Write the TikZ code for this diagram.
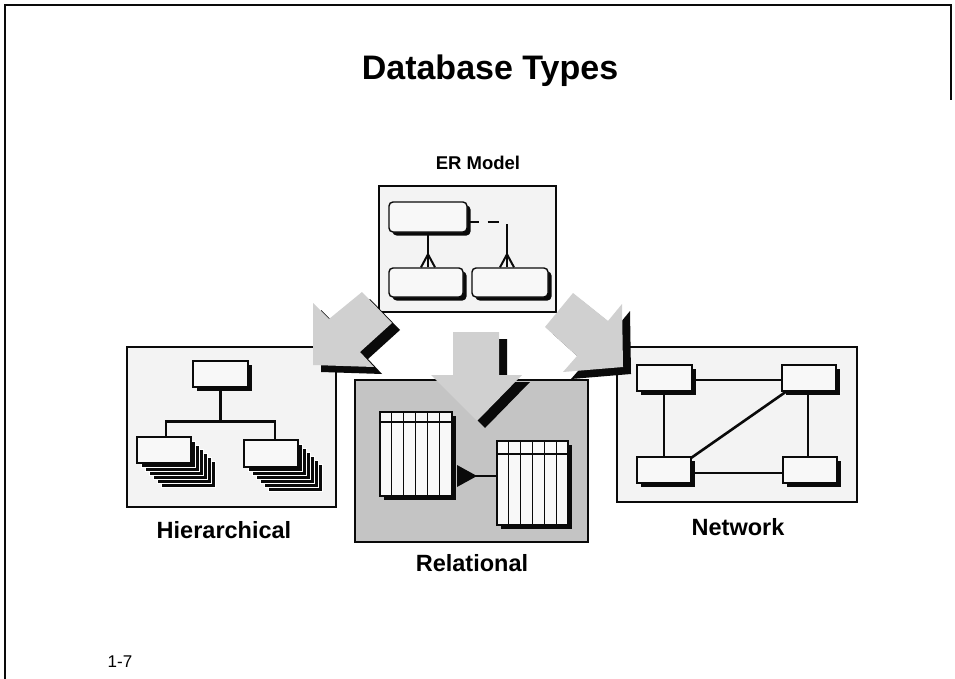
\documentclass[tikz,border=0pt]{standalone}
\usepackage{fontspec}
\setmainfont{Liberation Sans}
\usetikzlibrary{shadows,calc}
\definecolor{panelgray}{HTML}{F3F3F3}
\definecolor{relgray}{HTML}{C4C4C4}
\definecolor{cardwhite}{HTML}{F8F8F8}
\definecolor{arrowgray}{HTML}{D0D0D0}
\definecolor{inkblack}{HTML}{0A0A0A}
\begin{document}
\begin{tikzpicture}[x=1pt,y=-1pt,
  panel/.style={draw=inkblack,line width=2.5pt,fill=panelgray},
  card/.style={draw=inkblack,line width=1.4pt,fill=cardwhite,inner sep=0pt,
    drop shadow={shadow xshift=3.5pt,shadow yshift=-3.5pt,fill=inkblack,opacity=1}},
  flatcard/.style={draw=inkblack,line width=1.4pt,fill=cardwhite,inner sep=0pt},
  entity/.style={card,rounded corners=4pt},
  conn/.style={draw=inkblack,line width=2.6pt},
  stackcard/.style={fill=inkblack,draw=white,line width=0.7pt},
  bigarrow/.style={fill=arrowgray,
    drop shadow={shadow xshift=8pt,shadow yshift=-7pt,fill=inkblack,opacity=1}},
  label/.style={font=\bfseries\fontsize{23.5}{27}\selectfont,inner sep=0pt,anchor=base},
  title/.style={font=\bfseries\fontsize{34}{40}\selectfont,inner sep=0pt,anchor=base},
  pageno/.style={font=\fontsize{17}{20}\selectfont,inner sep=0pt,anchor=base}]

\useasboundingbox (0,0) rectangle (955,679);
\fill[white] (0,0) rectangle (955,679);

% page frame
\draw[inkblack,line width=2.5pt] (951,100) -- (951,5) -- (5,5) -- (5,679);

% titles and captions
\node[title] (ttl) at (490,80) {Database Types};
\node[label,font=\bfseries\fontsize{18.5}{22}\selectfont] (ler) at (478,170) {ER Model};
\node[label] (lhi) at (224,538) {Hierarchical};
\node[label] (lre) at (472,571) {Relational};
\node[label] (lne) at (738,535) {Network};
\node[pageno] (pg) at (120,667) {1-7};

% ---------------- ER model ----------------
\draw[panel] (379,186) rectangle (556,312);
\node[entity,minimum width=78pt,minimum height=30pt] (e1) at (428,217) {};
\node[entity,minimum width=74pt,minimum height=29pt] (e2) at (426,282.5) {};
\node[entity,minimum width=76pt,minimum height=29pt] (e3) at (510,282.5) {};
\path (e1.south |- e2.north) coordinate (fa);
\path ([xshift=-3pt]e3.north) coordinate (fb);
\path ([yshift=-5pt]e1.east) coordinate (da);
\draw[conn] (e1.south) -- (fa);
\draw[conn,line width=2pt] (fa) ++(-7,0) -- ++(7,-13) -- ++(7,13);
\draw[conn,dash pattern=on 11pt off 9pt] (da) -- (da -| fb);
\draw[conn] ([yshift=-2pt]da -| fb) -- (fb);
\draw[conn,line width=2pt] (fb) ++(-7,0) -- ++(7,-13) -- ++(7,13);

% ---------------- Hierarchical ----------------
\draw[panel] (127,347) rectangle (336,507);
\foreach \i in {6,...,1} {
  \filldraw[stackcard] (137+4*\i,437+4*\i) rectangle (191+4*\i,463+4*\i);
  \filldraw[stackcard] (244+4*\i,440+4*\i) rectangle (298+4*\i,467+4*\i);
}
\node[card,minimum width=55pt,minimum height=26pt] (h0) at (220.5,374) {};
\draw[conn] (h0.south) -- ++(0,34) coordinate (hj);
\draw[conn] (166,437) |- (hj) -| (275,440);
\node[flatcard,minimum width=54pt,minimum height=26pt] (h1) at (164,450) {};
\node[flatcard,minimum width=54pt,minimum height=27pt] (h2) at (271,453.5) {};

% ---------------- Network ----------------
\draw[panel] (617,347) rectangle (857,502);
\path (664,380) coordinate (na) (808,380) coordinate (nb)
      (664,473) coordinate (nc) (808,473) coordinate (nd);
\draw[conn] (na) -- (nb) -- (nd) -- (nc) -- cycle;
\draw[conn] (691,458) -- (787,391);
\node[card,minimum width=55pt,minimum height=26pt] (n1) at (664.5,378) {};
\node[card,minimum width=54pt,minimum height=26pt] (n2) at (809,378) {};
\node[card,minimum width=54pt,minimum height=26pt] (n3) at (664,470) {};
\node[card,minimum width=54pt,minimum height=26pt] (n4) at (810,470) {};

% ---------------- Relational ----------------
\draw[panel,fill=relgray] (355,380) rectangle (588,542);
\node[card,minimum width=72pt,minimum height=84pt] (t1) at (416,454) {};
\node[card,minimum width=71pt,minimum height=84pt] (t2) at (532.5,483) {};
\foreach \t/\h in {t1/11,t2/14} {
  \foreach \k in {1,...,5}
    \draw[inkblack,line width=1.2pt] ($(\t.north west)+(12*\k,0)$) -- ($(\t.south west)+(12*\k,0)$);
  \draw[inkblack,line width=2.2pt] ($(\t.north west)+(0,\h)$) -- ($(\t.north east)+(0,\h)$);
}
\coordinate (rl) at (457,476);
\draw[inkblack,line width=1.6pt] (rl) -- (rl -| t2.west);
\fill[inkblack] (rl) ++(0,-11) -- ++(20,11) -- ++(-20,11) -- cycle;

% ---------------- big 3-D arrows ----------------
\fill[bigarrow] (362,292) -- (392,323) -- (360,352) -- (374,367) -- (313,365)
  -- (313,303) -- (329,319) -- cycle;
\fill[bigarrow] (453,332) -- (499,332) -- (499,375) -- (522,375) -- (477,421)
  -- (431,375) -- (453,375) -- cycle;
\fill[bigarrow] (573,293) -- (545,327) -- (577,356) -- (563,372) -- (623,367)
  -- (622,304) -- (608,321) -- cycle;
\end{tikzpicture}
\end{document}
